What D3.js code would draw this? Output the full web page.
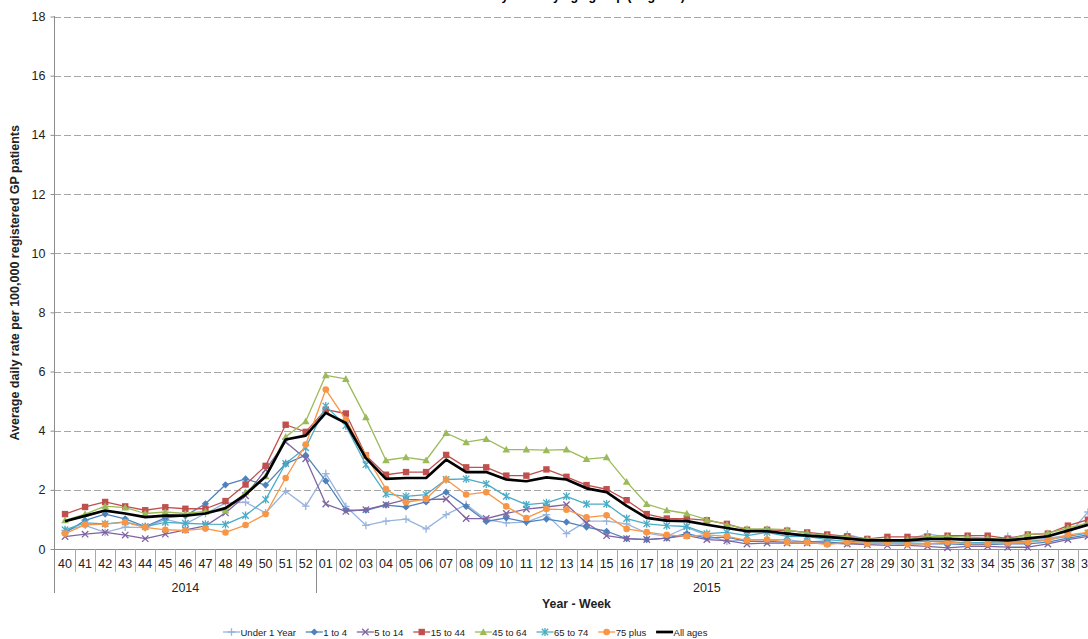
<!DOCTYPE html>
<html><head><meta charset="utf-8">
<script src="https://cdn.jsdelivr.net/npm/d3@7"></script>
<style>html,body{margin:0;padding:0;background:#fff;overflow:hidden}</style>
</head><body><svg id="c" width="1088" height="639"></svg>
<script>
const weeks = ["40","41","42","43","44","45","46","47","48","49","50","51","52",
  "01","02","03","04","05","06","07","08","09","10","11","12","13","14","15","16","17","18","19","20",
  "21","22","23","24","25","26","27","28","29","30","31","32","33","34","35","36","37","38","39"];
const yearLabels = ["2014","2015"];
const yearWeekCounts = [13,39];
const yTicks = [0,2,4,6,8,10,12,14,16,18];
const seriesNames = ["Under 1 Year","1 to 4","5 to 14","15 to 44","45 to 64","65 to 74","75 plus","All ages"];

const under1 = [0.63,0.80,0.56,0.74,0.72,1.00,0.85,1.20,1.55,1.58,1.22,1.95,1.45,
  2.55,1.44,0.80,0.94,1.01,0.68,1.16,1.50,0.99,0.88,0.91,1.16,0.52,0.94,0.94,
  0.85,0.54,0.43,0.73,0.46,0.26,0.32,0.32,0.32,0.23,0.28,0.49,0.32,0.32,0.32,0.51,0.40,0.23,0.18,0.43,0.32,0.37,0.46,1.25];
const age1to4 = [0.54,0.97,1.18,1.02,0.76,1.05,1.12,1.53,2.17,2.37,2.16,2.88,3.17,
  2.30,1.31,1.31,1.48,1.42,1.59,1.92,1.44,0.93,1.05,0.91,1.01,0.91,0.74,0.60,
  0.35,0.32,0.37,0.52,0.37,0.40,0.26,0.26,0.23,0.26,0.23,0.20,0.18,0.18,0.17,0.17,0.17,0.15,0.15,0.17,0.17,0.23,0.37,0.48];
const age5to14 = [0.42,0.50,0.56,0.47,0.35,0.50,0.65,0.78,1.22,1.80,2.68,3.62,3.05,
  1.52,1.27,1.33,1.50,1.67,1.67,1.69,1.03,1.03,1.20,1.35,1.42,1.50,0.88,0.45,
  0.35,0.32,0.37,0.46,0.32,0.28,0.17,0.20,0.20,0.20,0.20,0.17,0.15,0.12,0.12,0.09,0.04,0.09,0.09,0.06,0.06,0.17,0.32,0.43];
const age15to44 = [1.18,1.42,1.59,1.44,1.31,1.41,1.36,1.36,1.62,2.18,2.81,4.20,3.96,
  4.71,4.58,3.16,2.51,2.60,2.60,3.18,2.76,2.76,2.48,2.48,2.69,2.44,2.16,2.02,
  1.65,1.18,1.03,1.03,0.97,0.85,0.65,0.65,0.62,0.56,0.49,0.43,0.34,0.41,0.41,0.41,0.45,0.45,0.45,0.35,0.49,0.52,0.79,0.99];
const age45to64 = [0.97,1.18,1.45,1.40,1.20,1.25,1.20,1.27,1.30,1.92,2.46,3.79,4.32,
  5.87,5.75,4.45,3.00,3.10,3.00,3.92,3.61,3.72,3.36,3.36,3.34,3.36,3.04,3.10,
  2.27,1.52,1.31,1.20,0.99,0.82,0.68,0.68,0.65,0.54,0.45,0.41,0.34,0.32,0.32,0.43,0.43,0.40,0.37,0.32,0.49,0.54,0.71,0.88];
const age65to74 = [0.65,0.88,0.85,0.92,0.76,0.90,0.87,0.84,0.83,1.13,1.67,2.89,3.42,
  4.83,4.17,2.85,1.86,1.78,1.84,2.35,2.37,2.20,1.78,1.50,1.56,1.78,1.52,1.52,
  1.03,0.85,0.79,0.76,0.52,0.56,0.45,0.56,0.43,0.43,0.32,0.26,0.23,0.23,0.23,0.26,0.26,0.20,0.23,0.23,0.26,0.32,0.43,0.54];
const age75plus = [0.52,0.82,0.84,0.90,0.73,0.65,0.63,0.69,0.56,0.81,1.18,2.40,3.53,
  5.39,4.37,3.16,2.03,1.58,1.69,2.35,1.84,1.92,1.44,1.05,1.35,1.33,1.07,1.14,
  0.68,0.57,0.48,0.43,0.48,0.43,0.29,0.32,0.24,0.23,0.15,0.23,0.18,0.20,0.17,0.17,0.23,0.17,0.18,0.20,0.23,0.29,0.48,0.56];
const allAges = [0.94,1.12,1.30,1.20,1.08,1.13,1.13,1.20,1.38,1.84,2.45,3.70,3.83,
  4.60,4.26,3.07,2.37,2.40,2.40,3.02,2.60,2.60,2.35,2.29,2.42,2.35,2.05,1.92,
  1.46,1.05,0.96,0.94,0.82,0.71,0.60,0.60,0.52,0.45,0.41,0.35,0.29,0.29,0.29,0.34,0.34,0.32,0.32,0.29,0.36,0.43,0.62,0.82];

const seriesValues = [under1, age1to4, age5to14, age15to44, age45to64, age65to74, age75plus, allAges];
const colors = ["#98B4DD","#4F81BD","#8064A2","#C0504D","#9BBB59","#4BACC6","#F79646","#000000"];
const markers = ["plus","diamond","x","square","triangle","star","circle","none"];

const FONT = "'Liberation Sans', Arial, sans-serif";
const svg = d3.select("#c");
const x = d3.scaleBand().domain(weeks).range([55, 1098]).paddingInner(0).paddingOuter(0);
const y = d3.scaleLinear().domain([0, 18]).range([549, 16.5]);
const cx = w => x(w) + x.bandwidth() / 2;
const crisp = v => Math.round(v) + 0.5;
const axisColor = "#8c8c8c";

// title (cut off at the top in the reference: only descenders show)
svg.append("text").attr("x", 520).attr("y", 0).attr("text-anchor", "middle")
  .attr("font-family", FONT).attr("font-size", 12.5).attr("font-weight", "bold").attr("fill", "#000")
  .text("Influenza-like illness daily rates by age group (England)");

// gridlines
svg.append("g").selectAll("line").data(yTicks.filter(d => d > 0)).join("line")
  .attr("x1", 54).attr("x2", 1098)
  .attr("y1", d => crisp(y(d))).attr("y2", d => crisp(y(d)))
  .attr("stroke", "#a6a6a6").attr("stroke-width", 1).attr("stroke-dasharray", "7,3");

// y axis
const yAxis = d3.axisLeft(y).tickValues(yTicks).tickSize(4).tickPadding(5).tickFormat(d3.format("d"));
const gy = svg.append("g").attr("transform", "translate(54.5,0)").call(yAxis);
gy.select(".domain").remove();
gy.selectAll(".tick line").attr("stroke", axisColor);
gy.selectAll(".tick text").attr("font-family", FONT).attr("font-size", 12.5).attr("fill", "#222");
svg.append("line").attr("x1", 54.5).attr("x2", 54.5).attr("y1", 16).attr("y2", 593)
  .attr("stroke", axisColor);

// x axis
svg.append("line").attr("x1", 54).attr("x2", 1098).attr("y1", 549.5).attr("y2", 549.5).attr("stroke", axisColor);
const xAxis = d3.axisBottom(x).tickSize(0).tickPadding(0);
const gx = svg.append("g").attr("transform", "translate(0,549)").call(xAxis);
gx.select(".domain").remove();
gx.selectAll(".tick text").attr("font-family", FONT).attr("font-size", 12.5).attr("fill", "#222")
  .attr("dy", null).attr("y", 18.5);
// week separators
svg.append("g").selectAll("line").data(weeks.slice(1).concat(["__end"])).join("line")
  .attr("x1", d => d === "__end" ? crisp(x.range()[1]) : crisp(x(d)))
  .attr("x2", d => d === "__end" ? crisp(x.range()[1]) : crisp(x(d)))
  .attr("y1", 549).attr("y2", 572).attr("stroke", "#a8a8a8");
// year groups
let startIdx = 0;
yearLabels.forEach((lab, i) => {
  const first = weeks[startIdx];
  const last = weeks[startIdx + yearWeekCounts[i] - 1];
  const x0 = x(first), x1 = x(last) + x.bandwidth();
  svg.append("line").attr("x1", crisp(x1)).attr("x2", crisp(x1)).attr("y1", 549).attr("y2", 593).attr("stroke", axisColor);
  svg.append("text").attr("x", (x0 + x1) / 2).attr("y", 591.5).attr("text-anchor", "middle")
    .attr("font-family", FONT).attr("font-size", 12.5).attr("fill", "#222").text(lab);
  startIdx += yearWeekCounts[i];
});
svg.append("text").attr("x", (x.range()[0] + x.range()[1]) / 2).attr("y", 608).attr("text-anchor", "middle")
  .attr("font-family", FONT).attr("font-size", 12.3).attr("font-weight", "bold").attr("fill", "#222").text("Year - Week");

// y title
svg.append("text").attr("transform", `translate(19,${(y(0) + y(18)) / 2}) rotate(-90)`)
  .attr("text-anchor", "middle").attr("font-family", FONT).attr("font-size", 12.5).attr("font-weight", "bold")
  .attr("fill", "#222").text("Average daily rate per 100,000 registered GP patients");

function marker(g, type, color) {
  if (type === "none") return;
  if (type === "circle") { g.append("circle").attr("r", 3.3).attr("fill", color); return; }
  if (type === "square") { g.append("rect").attr("x", -3.2).attr("y", -3.2).attr("width", 6.4).attr("height", 6.4).attr("fill", color); return; }
  if (type === "diamond") { g.append("path").attr("d", "M0,-3.6L3.6,0L0,3.6L-3.6,0Z").attr("fill", color); return; }
  if (type === "triangle") { g.append("path").attr("d", "M0,-3.8L3.8,3L-3.8,3Z").attr("fill", color); return; }
  let d = "";
  if (type === "plus") d = "M-3.8,0H3.8M0,-3.8V3.8";
  if (type === "x") d = "M-3.2,-3.2L3.2,3.2M-3.2,3.2L3.2,-3.2";
  if (type === "star") d = "M-3.2,-3.2L3.2,3.2M-3.2,3.2L3.2,-3.2M0,-4V4";
  g.append("path").attr("d", d).attr("stroke", color).attr("stroke-width", 1.3).attr("fill", "none");
}

const line = d3.line().x((d, i) => cx(weeks[i])).y(d => y(d));
const plot = svg.append("g");
seriesValues.forEach((vals, si) => {
  const g = plot.append("g");
  g.append("path").attr("d", line(vals)).attr("fill", "none").attr("stroke", colors[si])
    .attr("stroke-width", si === 7 ? 2.7 : 1.3).attr("stroke-linejoin", "round");
  vals.forEach((v, i) => {
    const m = g.append("g").attr("transform", `translate(${cx(weeks[i])},${y(v)})`);
    marker(m, markers[si], colors[si]);
  });
});

// legend
const leg = svg.append("g");
let lx = 223;
const ly = 632;
seriesNames.forEach((name, si) => {
  leg.append("line").attr("x1", lx).attr("x2", lx + 17).attr("y1", ly).attr("y2", ly)
    .attr("stroke", colors[si]).attr("stroke-width", si === 7 ? 2.7 : 1.3);
  const m = leg.append("g").attr("transform", `translate(${lx + 8.5},${ly})`);
  marker(m, markers[si], colors[si]);
  const t = leg.append("text").attr("x", lx + 17.5).attr("y", ly + 3.5).attr("font-family", FONT)
    .attr("font-size", 9.5).attr("fill", "#222").text(name);
  lx += 17.5 + t.node().getComputedTextLength() + 9.8;
});
</script></body></html>
